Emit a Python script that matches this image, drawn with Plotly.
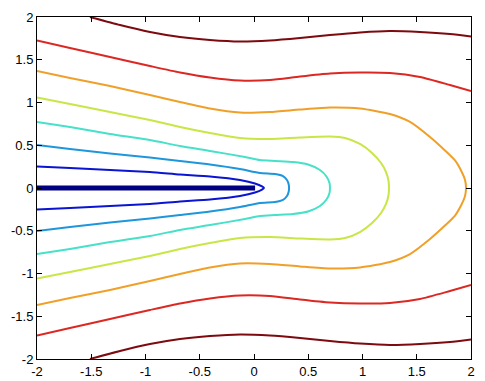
import plotly.graph_objects as go

# Tick labels
tick_vals = [-2, -1.5, -1, -0.5, 0, 0.5, 1, 1.5, 2]
tick_text = ["-2", "-1.5", "-1", "-0.5", "0", "0.5", "1", "1.5", "2"]

# Contour levels (upper half; lower half is the mirror image)
darkred_x = [-1.512, -1.235, -0.959, -0.682, -0.406, -0.129, 0.147, 0.424, 0.700, 0.977, 1.253, 1.530, 1.806, 2.0]
darkred_y = [2.0, 1.906, 1.825, 1.766, 1.731, 1.713, 1.725, 1.754, 1.789, 1.819, 1.836, 1.825, 1.801, 1.772]

red_x = [-2.0, -1.696, -1.327, -0.959, -0.682, -0.406, -0.129, 0.147, 0.424, 0.700, 0.977, 1.253, 1.530, 1.806, 2.0]
red_y = [1.725, 1.637, 1.532, 1.427, 1.351, 1.292, 1.257, 1.263, 1.304, 1.339, 1.351, 1.345, 1.298, 1.205, 1.135]

orange_x = [-2.0, -1.696, -1.327, -0.959, -0.682, -0.406, -0.129, 0.147, 0.424, 0.700, 0.977, 1.253, 1.438, 1.622, 1.760, 1.853, 1.908, 1.945, 1.954]
orange_y = [1.368, 1.287, 1.193, 1.088, 1.006, 0.930, 0.883, 0.889, 0.918, 0.942, 0.930, 0.865, 0.772, 0.596, 0.439, 0.322, 0.205, 0.094, 0.0]

yellow_x = [-2.0, -1.696, -1.327, -0.959, -0.682, -0.406, -0.129, 0.147, 0.424, 0.700, 0.839, 0.977, 1.088, 1.171, 1.217, 1.240, 1.244]
yellow_y = [1.058, 0.982, 0.889, 0.795, 0.713, 0.643, 0.585, 0.573, 0.591, 0.602, 0.585, 0.515, 0.409, 0.292, 0.187, 0.082, 0.0]

cyan_x = [-2.0, -1.696, -1.327, -0.959, -0.682, -0.406, -0.083, 0.055, 0.194, 0.359, 0.498, 0.608, 0.668, 0.696, 0.700]
cyan_y = [0.772, 0.713, 0.632, 0.561, 0.491, 0.433, 0.363, 0.327, 0.316, 0.304, 0.275, 0.211, 0.135, 0.058, 0.0]

dodger_x = [-2.0, -1.696, -1.327, -0.959, -0.682, -0.406, -0.129, 0.055, 0.194, 0.267, 0.304, 0.320, 0.323]
dodger_y = [0.503, 0.456, 0.404, 0.357, 0.316, 0.275, 0.222, 0.175, 0.164, 0.140, 0.094, 0.041, 0.0]

blue_x = [-2.0, -1.696, -1.327, -0.959, -0.682, -0.406, -0.129, 0.009, 0.074, 0.092]
blue_y = [0.251, 0.234, 0.211, 0.187, 0.158, 0.135, 0.094, 0.053, 0.018, 0.0]

navy_x = [-2.0, 0.01]
navy_y = [0.0, 0.0]

levels = [
    (blue_x, blue_y, "#0a14d2", True),
    (dodger_x, dodger_y, "#1e96dc", True),
    (cyan_x, cyan_y, "#46e1c8", True),
    (yellow_x, yellow_y, "#c8e646", True),
    (orange_x, orange_y, "#f0a028", True),
    (red_x, red_y, "#dc2823", False),
    (darkred_x, darkred_y, "#7d0a0f", False),
]

fig = go.Figure()

fig.add_trace(go.Scatter(x=navy_x, y=navy_y, mode="lines",
                         line=dict(color="#000082", width=5), showlegend=False))

for xs, ys, col, closed in levels:
    if closed:
        # upper half to the vertex, then back along the mirrored lower half
        px = list(xs) + list(reversed(xs[:-1]))
        py = list(ys) + [-v for v in reversed(ys[:-1])]
    else:
        px = list(xs) + [None] + list(xs)
        py = list(ys) + [None] + [-v for v in ys]
    fig.add_trace(go.Scatter(x=px, y=py, mode="lines",
                             line=dict(color=col, width=2, shape="spline", smoothing=0.6),
                             showlegend=False, connectgaps=False))

axis_common = dict(
    range=[-2, 2], tickvals=tick_vals, ticktext=tick_text,
    ticks="inside", ticklen=5, tickcolor="black", tickwidth=1,
    showline=True, linecolor="black", linewidth=1, mirror="ticks",
    showgrid=False, zeroline=False, automargin=False,
    tickfont=dict(family="Liberation Sans, Arial, sans-serif", size=13, color="black"),
)

fig.update_layout(
    width=485, height=381, autosize=False,
    margin=dict(l=37, r=14, t=17, b=22),
    paper_bgcolor="white", plot_bgcolor="white",
    xaxis=dict(axis_common),
    yaxis=dict(axis_common),
)

fig.write_html(
    "out.html",
    config={"displayModeBar": False},
    post_script="document.body.style.margin='0px';document.body.style.overflow='hidden';",
)
